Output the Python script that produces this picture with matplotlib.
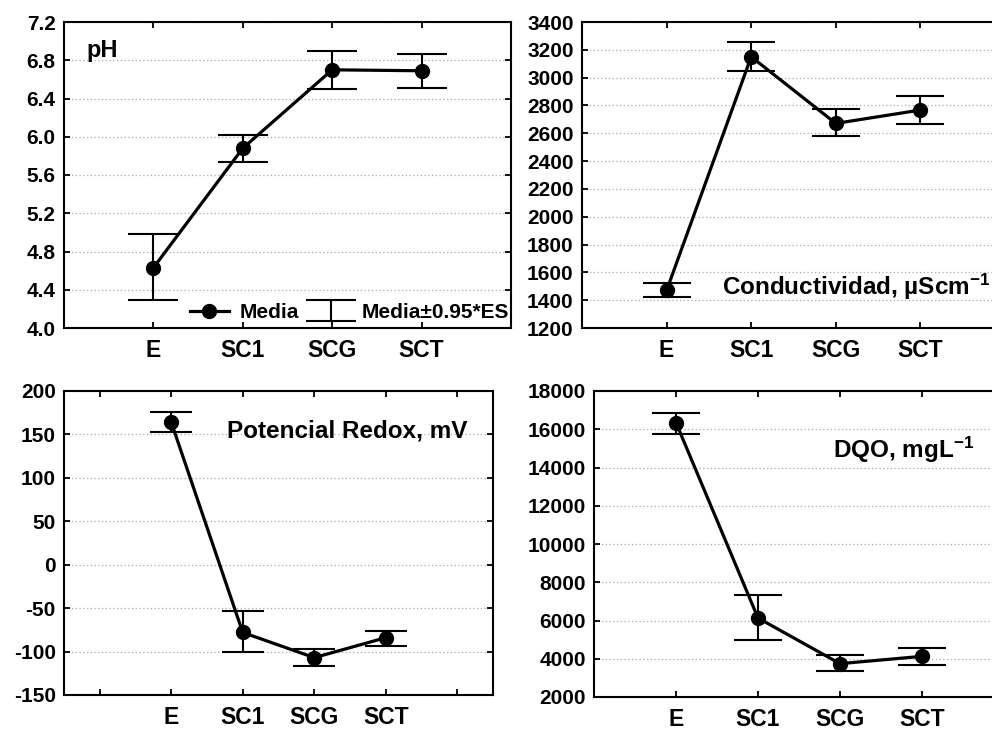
import matplotlib
matplotlib.use('Agg')
import matplotlib.pyplot as plt
import numpy as np

plt.rcParams['font.family'] = ['Liberation Sans', 'DejaVu Sans']
plt.rcParams['font.weight'] = 'bold'
plt.rcParams['mathtext.fontset'] = 'custom'
plt.rcParams['mathtext.rm'] = 'Liberation Sans:bold'
plt.rcParams['mathtext.it'] = 'Liberation Sans:bold'
plt.rcParams['mathtext.bf'] = 'Liberation Sans:bold'

categories = ['E', 'SC1', 'SCG', 'SCT']

ph_mean = [4.63, 5.88, 6.70, 6.69]
ph_low = [4.29, 5.74, 6.50, 6.51]
ph_high = [4.98, 6.02, 6.90, 6.87]

cond_mean = [1470, 3150, 2671, 2767]
cond_low = [1422, 3049, 2580, 2664]
cond_high = [1520, 3257, 2771, 2870]

redox_mean = [164, -78, -107, -84]
redox_low = [153, -101, -117, -94]
redox_high = [176, -53, -97, -76]

dqo_mean = [16343, 6130, 3743, 4126]
dqo_low = [15733, 4998, 3359, 3690]
dqo_high = [16866, 7350, 4196, 4579]

ph_ticks = [4.0, 4.4, 4.8, 5.2, 5.6, 6.0, 6.4, 6.8, 7.2]
cond_ticks = list(range(1200, 3401, 200))
redox_ticks = list(range(-150, 201, 50))
dqo_ticks = list(range(2000, 18001, 2000))

W, H = 992, 731
fig = plt.figure(figsize=(W / 100, H / 100), dpi=100)

def box(l, r, t, b):
    return [l / W, 1 - b / H, (r - l) / W, (b - t) / H]

ax1 = fig.add_axes(box(64, 511, 22, 328))
ax2 = fig.add_axes(box(582, 1005, 22, 328))
ax3 = fig.add_axes(box(64, 493, 391, 695))
ax4 = fig.add_axes(box(594, 1004, 391, 697))

def panel(ax, mean, low, high, yticks, fmt, capsize, wide=False):
    x = np.arange(1, len(categories) + 1)
    mean = np.array(mean, float)
    err = [mean - np.array(low, float), np.array(high, float) - mean]
    ax.set_axisbelow(True)
    ax.grid(axis='y', linestyle=(0, (1, 2)), color='#aaaaaa', linewidth=0.9)
    eb = ax.errorbar(x, mean, yerr=err, fmt='none', ecolor='black',
                     elinewidth=1.5, capsize=capsize, capthick=1.5, zorder=3)
    ln, = ax.plot(x, mean, '-o', color='black', lw=2.3, ms=10, zorder=4)
    ax.set_ylim(yticks[0], yticks[-1])
    ax.set_yticks(yticks)
    ax.set_yticklabels([fmt.format(v) for v in yticks])
    if wide:
        ax.set_xlim(-0.5, 5.5)
        ax.set_xticks(range(0, 6))
        ax.set_xticklabels([''] + categories + [''])
    else:
        ax.set_xlim(0, 5)
        ax.set_xticks(x)
        ax.set_xticklabels(categories)
    ax.tick_params(direction='in', top=True, right=True, length=4, width=1.3)
    ax.tick_params(axis='y', labelsize=15, pad=6)
    ax.tick_params(axis='x', labelsize=16.5, pad=8)
    for s in ax.spines.values():
        s.set_linewidth(1.5)
    return ln, eb

ln, eb = panel(ax1, ph_mean, ph_low, ph_high, ph_ticks, '{:.1f}', 18)
panel(ax2, cond_mean, cond_low, cond_high, cond_ticks, '{:d}', 17.5)
panel(ax3, redox_mean, redox_low, redox_high, redox_ticks, '{:d}', 15, wide=True)
panel(ax4, dqo_mean, dqo_low, dqo_high, dqo_ticks, '{:d}', 17)

ax1.text(0.051, 0.908, 'pH', transform=ax1.transAxes, fontsize=17,
         fontweight='bold', ha='left', va='center')
ax2.text(0.331, 0.134, 'Conductividad, µScm$^{-1}$', transform=ax2.transAxes,
         fontsize=17.5, fontweight='bold', ha='left', va='center')
ax3.text(0.380, 0.868, 'Potencial Redox, mV', transform=ax3.transAxes,
         fontsize=17.5, fontweight='bold', ha='left', va='center')
ax4.text(0.583, 0.807, 'DQO, mgL$^{-1}$', transform=ax4.transAxes,
         fontsize=17.5, fontweight='bold', ha='left', va='center')

leg = ax1.legend([ln, eb], ['Media', 'Media±0.95*ES'], loc='center right',
                 bbox_to_anchor=(1.0, 0.05), borderaxespad=0.0, frameon=False,
                 ncol=2, fontsize=15, handlelength=1.9, handletextpad=0.5,
                 columnspacing=0.6, borderpad=0.1)

fig.savefig('out.png', dpi=100)
